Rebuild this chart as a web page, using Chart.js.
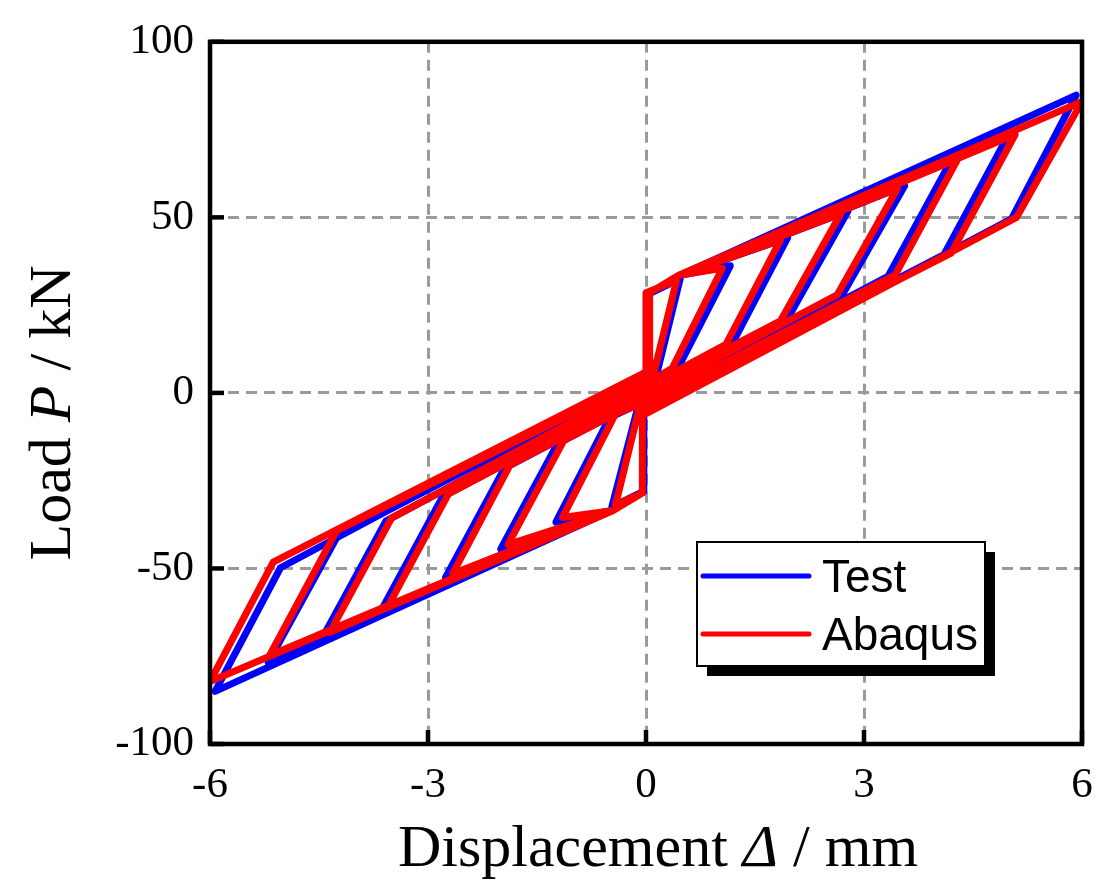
<!DOCTYPE html>
<html>
<head>
<meta charset="utf-8">
<script src="https://cdn.jsdelivr.net/npm/chart.js@4.4.0/dist/chart.umd.min.js"></script>
<style>
  html, body { margin: 0; padding: 0; background: #fff; }
  canvas { display: block; }
</style>
</head>
<body>
<canvas id="c" width="1110" height="888"></canvas>
<script>
// ---- data (displacement in mm, load in kN) ----
const testDisp = [
  0, 0.02, 0.47, 0.15, -0.03, -0.03, -0.47, -0.13, 0.03,
  0.03, 0.47, 1.16, 0.45, -0.03, -0.03, -0.47, -1.24, -0.50, 0.03,
  0.03, 0.47, 1.95, 1.20, -0.03, -0.03, -0.47, -2.00, -1.22, 0.03,
  0.03, 0.47, 2.78, 1.95, -0.03, -0.03, -0.47, -2.76, -1.95, 0.03,
  0.03, 0.47, 3.56, 2.72, -0.03, -0.03, -0.47, -3.64, -2.80, 0.03,
  0.03, 0.47, 4.20, 3.33, -0.03, -0.03, -0.47, -4.44, -3.58, 0.03,
  0.03, 0.47, 4.98, 4.10, -0.03, -0.03, -0.47, -5.20, -4.25, 0.03,
  0.03, 0.47, 5.92, 5.03, -0.03, -0.03, -0.47, -5.93, -5.03, 0.03, 0.03
];
const testLoad = [
  0, 28, 32.5, 5.5, 1, -28, -32.5, -5.5, -1,
  28, 33.5, 36.2, 7.5, 2, -28, -33.5, -36.8, -7.0, -2,
  28, 33.5, 44.2, 14.5, 1, -28, -33.5, -44.5, -14.5, -1,
  28, 33.5, 51.8, 21.2, 0, -28, -33.5, -52.6, -21.5, 0,
  28, 33.5, 59.0, 28.6, -1.5, -28, -33.5, -61.8, -29.6, 1.5,
  28, 33.5, 66.2, 33.2, -3.5, -28, -33.5, -69.2, -36.5, 3.5,
  28, 33.5, 73.2, 39.4, -5, -28, -33.5, -76.8, -41.0, 5,
  28, 33.5, 84.8, 49.6, -6, -28, -33.5, -85.0, -49.8, 6, 28
];
const abaqusDisp = [
  0, 0.0, 0.42, 0.10, -0.05, -0.05, -0.42, -0.10, 0.05,
  0.05, 0.45, 1.05, 0.36, -0.05, -0.05, -0.45, -1.15, -0.42, 0.05,
  0.05, 0.45, 1.85, 1.10, -0.05, -0.05, -0.45, -1.90, -1.13, 0.05,
  0.05, 0.45, 2.68, 1.85, -0.05, -0.05, -0.45, -2.66, -1.87, 0.05,
  0.05, 0.45, 3.46, 2.63, -0.05, -0.05, -0.45, -3.55, -2.72, 0.05,
  0.05, 0.45, 4.29, 3.43, -0.05, -0.05, -0.45, -4.35, -3.50, 0.05,
  0.05, 0.45, 5.08, 4.20, -0.05, -0.05, -0.45, -5.18, -4.26, 0.05,
  0.05, 0.45, 6.00, 5.10, -0.05, -0.05, -0.45, -6.00, -5.13, 0.05, 0.05
];
const abaqusLoad = [
  0, 28.5, 32, 5, 1, -28.5, -32, -5, -1,
  28.5, 33.5, 35.5, 7, 2, -28.5, -33.5, -35.5, -6, -2,
  28.5, 33.5, 43.5, 13.8, 1, -28.5, -33.5, -43.2, -13.5, -1,
  28.5, 33.5, 51.0, 20.5, 0, -28.5, -33.5, -51.5, -20.5, 0,
  28.5, 33.5, 58.2, 27.9, -1.5, -28.5, -33.5, -60.8, -28.8, 1.5,
  28.5, 33.5, 66.6, 33.6, -3.5, -28.5, -33.5, -68.2, -35.6, 3.5,
  28.5, 33.5, 73.6, 39.8, -5, -28.5, -33.5, -74.8, -39.3, 5,
  28.5, 33.5, 83.0, 50.0, -6.5, -28.5, -33.5, -82.2, -48.2, 6.5, 28.5
];
const xTickValues = [-6, -3, 0, 3, 6];
const yTickValues = [-100, -50, 0, 50, 100];
const seriesNames = ['Test', 'Abaqus'];
const seriesColors = ['#0000ff', '#ff0000'];
const xTitleParts = [['Displacement ', false], ['\u0394', true], [' / mm', false]];
const yTitleParts = [['Load ', false], ['P', true], [' / kN', false]];

const toPoints = (xs, ys) => xs.map((x, i) => ({ x: x, y: ys[i] }));

const SERIF = '"Liberation Serif", "Times New Roman", serif';
const SANS = '"Liberation Sans", Arial, sans-serif';

function drawParts(ctx, parts, size) {
  const fonts = parts.map(p => (p[1] ? 'italic ' : '') + size + 'px ' + SERIF);
  const widths = parts.map((p, i) => { ctx.font = fonts[i]; return ctx.measureText(p[0]).width; });
  const total = widths.reduce((a, b) => a + b, 0);
  let x = -total / 2;
  ctx.textAlign = 'left';
  ctx.textBaseline = 'alphabetic';
  parts.forEach((p, i) => { ctx.font = fonts[i]; ctx.fillText(p[0], x, 0); x += widths[i]; });
}

const decorPlugin = {
  id: 'decor',
  afterDraw(chart) {
    const ctx = chart.ctx;
    const a = chart.chartArea;
    const xs = chart.scales.x, ys = chart.scales.y;
    ctx.save();
    ctx.fillStyle = '#000';
    ctx.strokeStyle = '#000';
    // inward ticks
    ctx.lineWidth = 4.5;
    ctx.lineCap = 'butt';
    xTickValues.forEach(v => {
      const px = xs.getPixelForValue(v);
      ctx.beginPath(); ctx.moveTo(px, a.bottom); ctx.lineTo(px, a.bottom - 14); ctx.stroke();
    });
    yTickValues.forEach(v => {
      const py = ys.getPixelForValue(v);
      ctx.beginPath(); ctx.moveTo(a.left, py); ctx.lineTo(a.left + 14, py); ctx.stroke();
    });
    // frame
    ctx.lineWidth = 4.5;
    ctx.lineJoin = 'miter';
    ctx.strokeRect(a.left, a.top, a.right - a.left, a.bottom - a.top);

    // axis titles
    ctx.save();
    ctx.translate((a.left + a.right) / 2 + 12, 866);
    drawParts(ctx, xTitleParts, 60);
    ctx.restore();
    ctx.save();
    ctx.translate(70, 413);
    ctx.rotate(-Math.PI / 2);
    drawParts(ctx, yTitleParts, 60);
    ctx.restore();

    // legend box with shadow
    const lx = 697, ly = 542, lw = 288, lh = 124;
    ctx.fillStyle = '#000';
    ctx.fillRect(lx + 10, ly + 10, lw, lh);
    ctx.fillStyle = '#fff';
    ctx.fillRect(lx, ly, lw, lh);
    ctx.lineWidth = 2;
    ctx.strokeStyle = '#000';
    ctx.strokeRect(lx, ly, lw, lh);
    const rows = [576, 634];
    seriesNames.forEach((name, i) => {
      ctx.strokeStyle = seriesColors[i];
      ctx.lineWidth = 5;
      ctx.lineCap = 'round';
      ctx.beginPath(); ctx.moveTo(703, rows[i]); ctx.lineTo(809, rows[i]); ctx.stroke();
      ctx.fillStyle = '#000';
      ctx.font = '46px ' + SANS;
      ctx.textAlign = 'left';
      ctx.textBaseline = 'alphabetic';
      ctx.fillText(name, 822, rows[i] + 16);
    });
    ctx.restore();
  }
};

const gridOpts = { color: '#9a9a9a', lineWidth: 3, drawTicks: false };
const tickFont = { family: SERIF, size: 43 };

new Chart(document.getElementById('c'), {
  type: 'scatter',
  data: {
    datasets: [
      {
        label: seriesNames[0],
        data: toPoints(testDisp, testLoad),
        showLine: true,
        borderColor: seriesColors[0],
        backgroundColor: seriesColors[0],
        borderWidth: 7,
        pointRadius: 0,
        tension: 0,
        borderJoinStyle: 'round',
        borderCapStyle: 'round',
        order: 2
      },
      {
        label: seriesNames[1],
        data: toPoints(abaqusDisp, abaqusLoad),
        showLine: true,
        borderColor: seriesColors[1],
        backgroundColor: seriesColors[1],
        borderWidth: 7,
        pointRadius: 0,
        tension: 0,
        borderJoinStyle: 'round',
        borderCapStyle: 'round',
        order: 1
      }
    ]
  },
  options: {
    responsive: false,
    animation: false,
    events: [],
    layout: { padding: { left: 0, right: 28, top: 39, bottom: 0 } },
    plugins: { legend: { display: false }, tooltip: { enabled: false } },
    scales: {
      x: {
        type: 'linear', min: -6, max: 6,
        afterBuildTicks: s => { s.ticks = xTickValues.map(v => ({ value: v })); },
        afterFit: s => { s.height = 144; },
        grid: gridOpts,
        border: { display: false, dash: [11, 7] },
        ticks: { font: tickFont, color: '#000', padding: 16, maxRotation: 0, autoSkip: false }
      },
      y: {
        type: 'linear', min: -100, max: 100,
        afterBuildTicks: s => { s.ticks = yTickValues.map(v => ({ value: v })); },
        afterFit: s => { s.width = 210; },
        grid: gridOpts,
        border: { display: false, dash: [11, 7] },
        ticks: { font: tickFont, color: '#000', padding: 16, autoSkip: false }
      }
    }
  },
  plugins: [decorPlugin]
});
</script>
</body>
</html>
